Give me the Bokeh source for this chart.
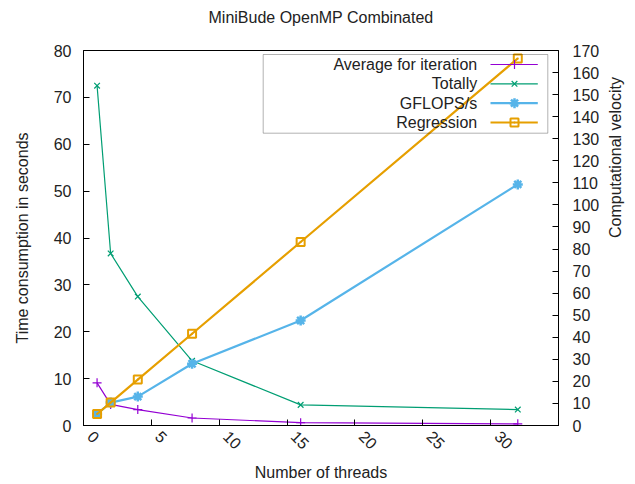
import math
from bokeh.plotting import figure
from bokeh.models import Range1d, LinearAxis, FixedTicker, BoxAnnotation, Title
from bokeh.core.properties import value
from bokeh.embed import file_html
from bokeh.resources import INLINE

# ---- data ----
threads = [1, 2, 4, 8, 16, 32]
avg_iteration = [9.1, 4.5, 3.4, 1.6, 0.6, 0.35]
totally = [72.5, 36.7, 27.5, 13.8, 4.4, 3.4]
gflops = [5.2, 10.4, 13.1, 28.0, 47.6, 109.3]
regression = [5.2, 10.4, 20.8, 41.6, 83.2, 166.4]

x_ticks = [0, 5, 10, 15, 20, 25, 30, 35]
y_ticks = [0, 10, 20, 30, 40, 50, 60, 70, 80]
y2_ticks = list(range(0, 171, 10))

series_names = ["Average for iteration", "Totally", "GFLOPS/s", "Regression"]
colors = ["#9400d3", "#009e73", "#56b4e9", "#e69f00"]

FONT = "Liberation Sans"
FS = "16px"
TXT = "#222222"

# frame geometry (pixels)
W, H = 635, 484
FL, FR, FT, FB = 83, 558, 50, 425
XMAX, YMAX, Y2MAX = 35, 80, 170
XLAB_SHIFT_PX = 7  # gnuplot rotated tick labels start at the tick, i.e. sit right of it

p = figure(width=W, height=H, x_range=Range1d(0, XMAX), y_range=Range1d(0, YMAX),
           output_backend="svg", toolbar_location=None,
           min_border_left=FL, min_border_right=W - FR,
           min_border_top=FT, min_border_bottom=H - FB,
           title="MiniBude OpenMP Combinated")
shift = XLAB_SHIFT_PX / (FR - FL) * XMAX
p.extra_x_ranges = {"xl": Range1d(-shift, XMAX - shift)}
p.extra_y_ranges = {"y2": Range1d(0, Y2MAX)}

p.title.align = "center"
p.title.vertical_align = "bottom"
p.title.text_font = FONT
p.title.text_font_size = FS
p.title.text_font_style = "normal"
p.title.text_color = TXT
p.title.standoff = 0

# spacer between title and frame
p.add_layout(Title(text=" ", text_font_size="1px", standoff=22), "above")

p.grid.visible = False
p.outline_line_color = "black"
p.outline_line_width = 1
p.background_fill_color = "white"
p.border_fill_color = "white"

def style_axis(ax, ticks, standoff):
    ax.ticker = FixedTicker(ticks=ticks)
    ax.major_tick_in = 6
    ax.major_tick_out = 0
    ax.minor_tick_line_color = None
    ax.major_tick_line_color = "black"
    ax.axis_line_color = "black"
    ax.major_label_text_font = FONT
    ax.major_label_text_font_size = FS
    ax.major_label_text_color = TXT
    ax.major_label_standoff = standoff
    ax.axis_label_text_font = FONT
    ax.axis_label_text_font_size = FS
    ax.axis_label_text_font_style = "normal"
    ax.axis_label_text_color = TXT

# main x axis: ticks only
xa = p.xaxis[0]
style_axis(xa, x_ticks, 0)
xa.major_label_overrides = {t: "" for t in x_ticks}

# label axis: rotated tick labels and axis title
xl = LinearAxis(x_range_name="xl")
style_axis(xl, x_ticks, 8)
xl.axis_line_color = None
xl.major_tick_line_color = None
xl.major_label_orientation = -math.pi / 4
xl.axis_label = "Number of threads"
xl.axis_label_standoff = 6
p.add_layout(xl, "below")

ya = p.yaxis[0]
style_axis(ya, y_ticks, 12)
ya.axis_label = "Time consumption in seconds"
ya.axis_label_standoff = 20

y2 = LinearAxis(y_range_name="y2")
style_axis(y2, y2_ticks, 14)
y2.axis_label = "Computational velocity"
y2.axis_label_standoff = 13
y2.axis_label_orientation = math.pi / 2
p.add_layout(y2, "right")

# ---- data series ----
p.line(threads, avg_iteration, line_color=colors[0], line_width=1.2)
p.scatter(threads, avg_iteration, marker="cross", size=9, line_color=colors[0], line_width=1.2)

p.line(threads, totally, line_color=colors[1], line_width=1.2)
p.scatter(threads, totally, marker="x", size=8, line_color=colors[1], line_width=1.2)

p.line(threads, gflops, line_color=colors[2], line_width=2.2, y_range_name="y2")
p.scatter(threads, gflops, marker="asterisk", size=10, line_color=colors[2], line_width=2.5,
          y_range_name="y2")

p.line(threads, regression, line_color=colors[3], line_width=2.2, y_range_name="y2")
p.scatter(threads, regression, marker="square_dot", size=8, line_color=colors[3],
          fill_color=None, line_width=2, y_range_name="y2")

# ---- key (gnuplot style: text then sample) ----
def px2x(px):
    return (px - FL) / (FR - FL) * XMAX

def py2y(py):
    return (FB - py) / (FB - FT) * YMAX

key = BoxAnnotation(left=px2x(262.7), right=px2x(547.3), top=py2y(54), bottom=py2y(132.7),
                    fill_color=None, line_color="black", line_width=1)
p.add_layout(key)

row_px = [64, 83.3, 102.7, 122]
row_y = [py2y(v) for v in row_px]
lw = [1.2, 1.2, 2.2, 2.2]
markers = ["cross", "x", "asterisk", "square_dot"]
msize = [9, 8, 10, 8]
for i in range(4):
    p.text(x=[px2x(476.7)], y=[row_y[i]], text=[series_names[i]], text_align="right",
           text_baseline="middle", text_font=value(FONT), text_font_size=FS,
           text_color=TXT)
    p.segment(x0=[px2x(490)], y0=[row_y[i]], x1=[px2x(537.3)], y1=[row_y[i]],
              line_color=colors[i], line_width=lw[i])
    p.scatter(x=[px2x(514)], y=[row_y[i]], marker=markers[i], size=msize[i],
              line_color=colors[i], fill_color=None,
              line_width=1.2 if i < 2 else (2.5 if i == 2 else 2))

open("out.html", "w").write(file_html(p, INLINE))
